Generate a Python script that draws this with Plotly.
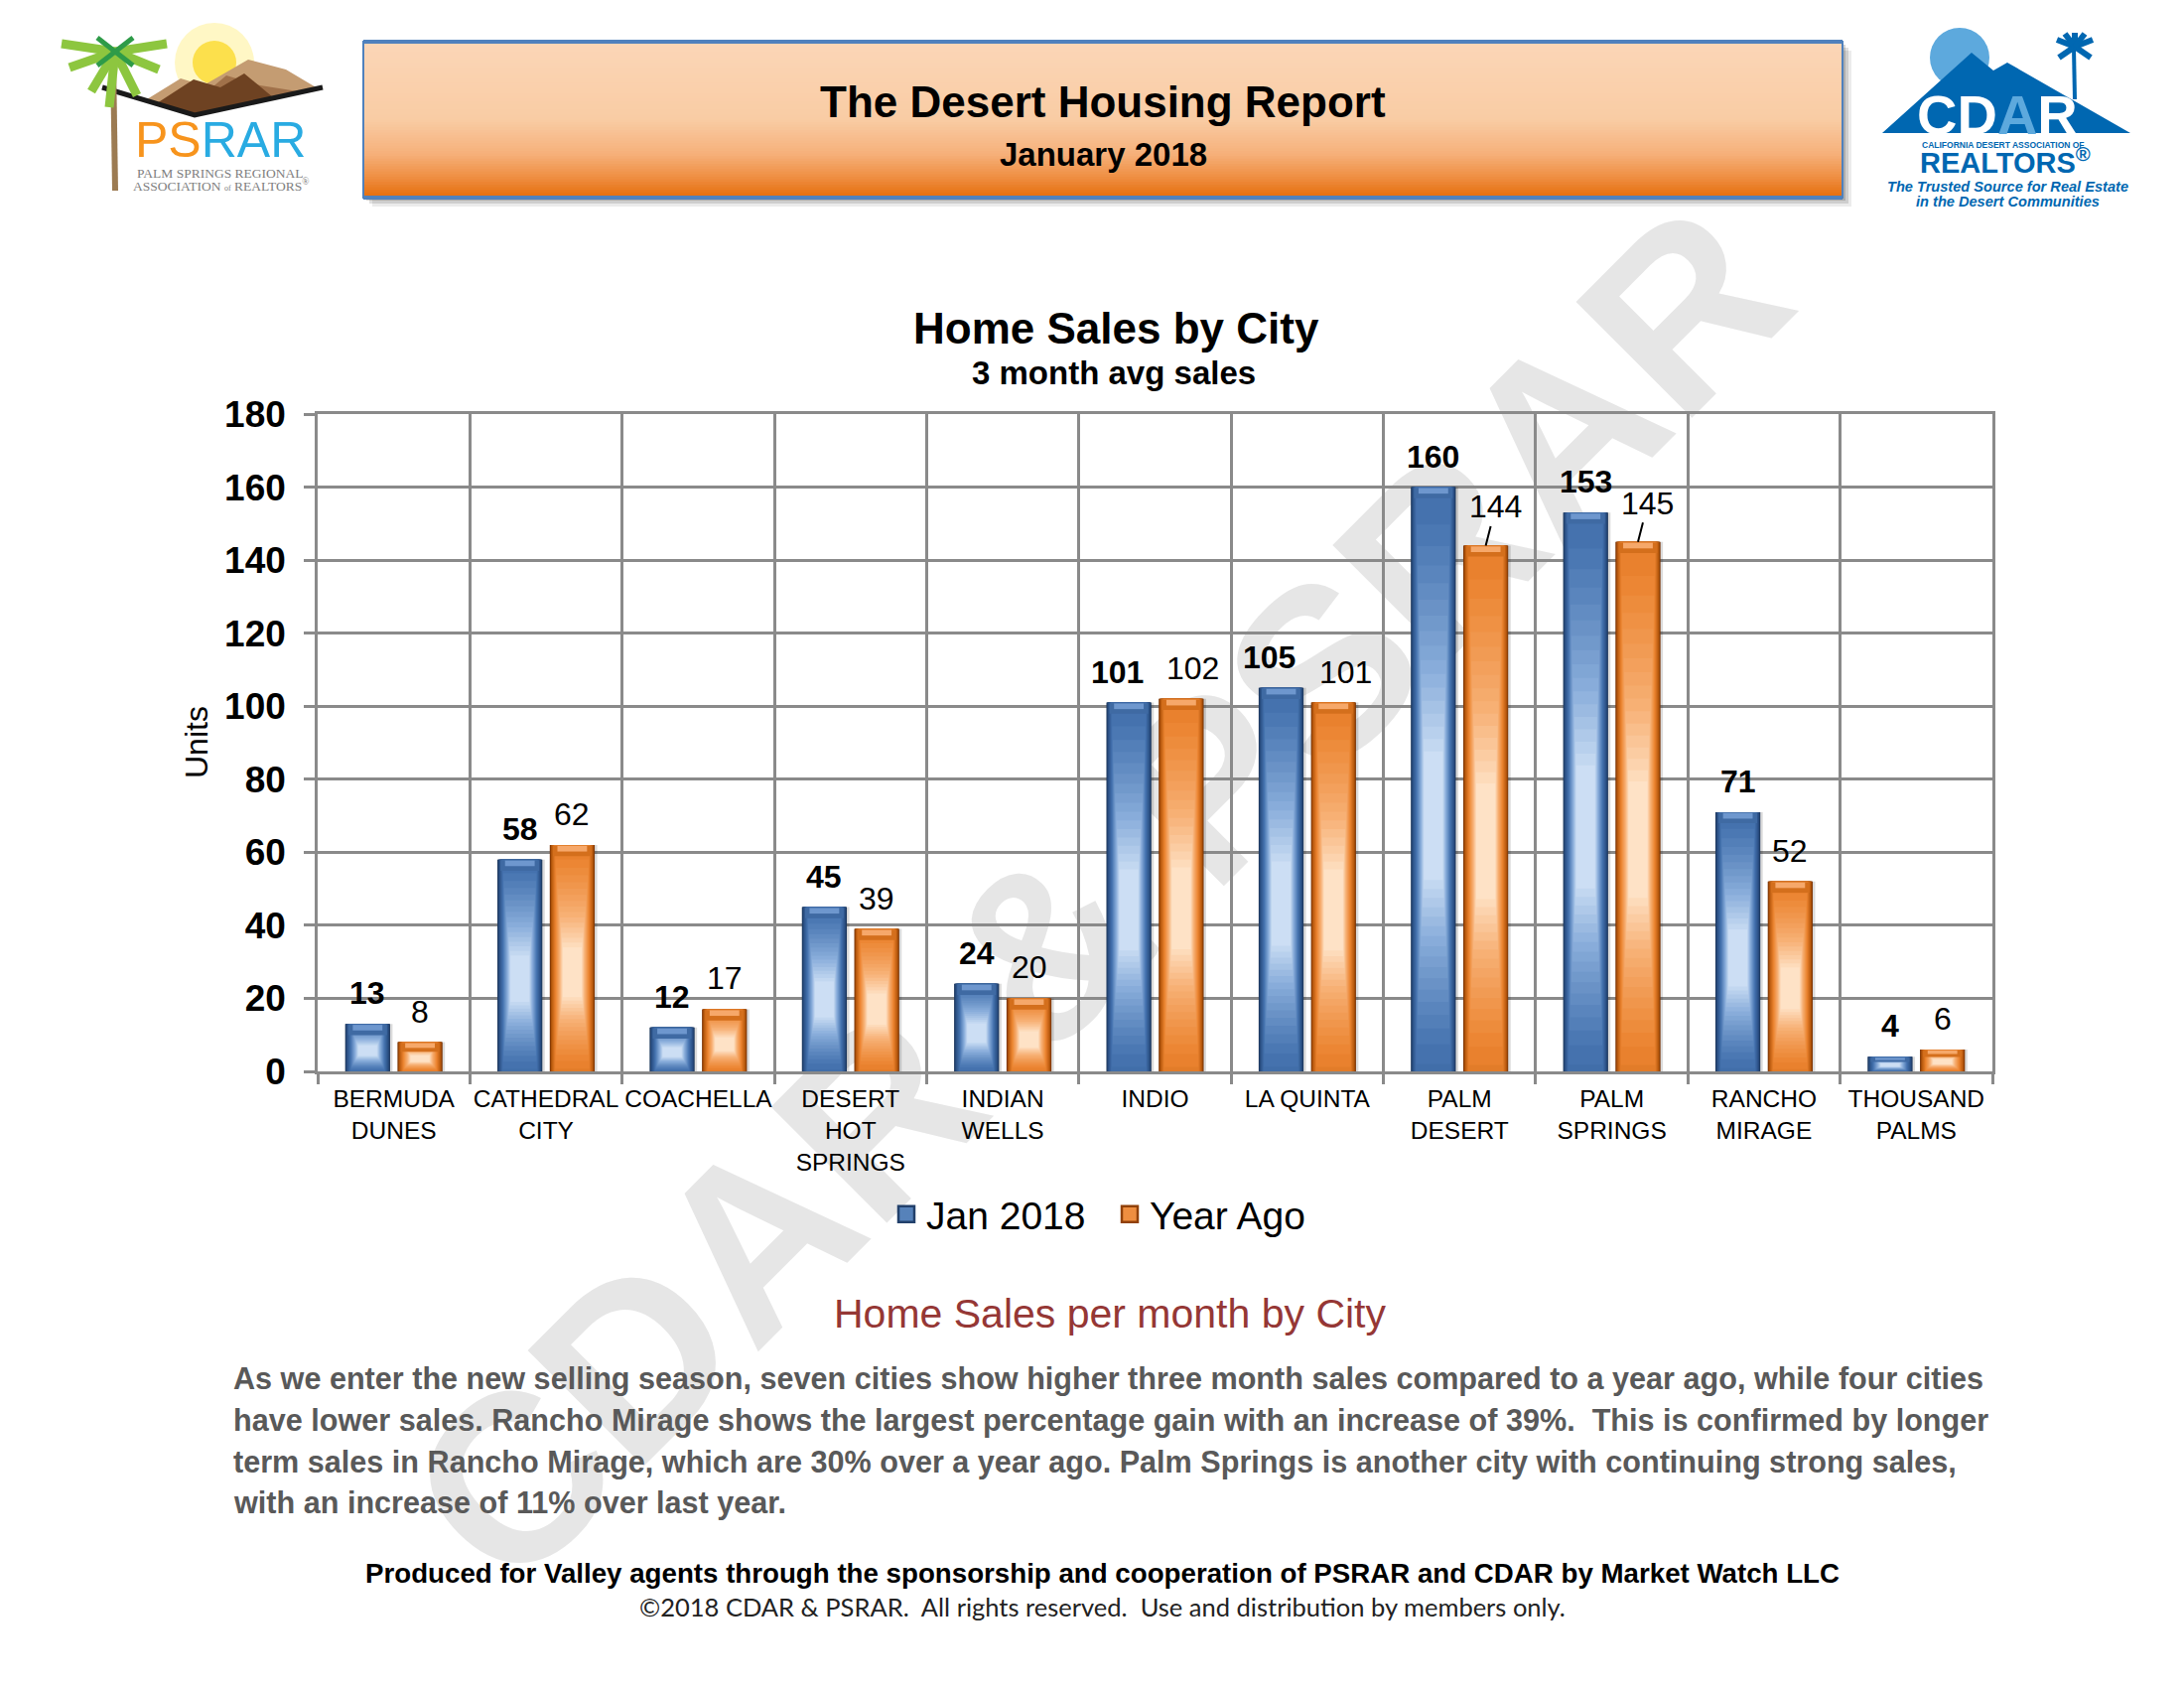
import plotly.graph_objects as go

# ---------------- data ----------------
categories = ["BERMUDA DUNES", "CATHEDRAL CITY", "COACHELLA", "DESERT HOT SPRINGS",
              "INDIAN WELLS", "INDIO", "LA QUINTA", "PALM DESERT", "PALM SPRINGS",
              "RANCHO MIRAGE", "THOUSAND PALMS"]
tick_labels = ["BERMUDA<br>DUNES", "CATHEDRAL<br>CITY", "COACHELLA", "DESERT<br>HOT<br>SPRINGS",
               "INDIAN<br>WELLS", "INDIO", "LA QUINTA", "PALM<br>DESERT", "PALM<br>SPRINGS",
               "RANCHO<br>MIRAGE", "THOUSAND<br>PALMS"]
jan_2018 = [13, 58, 12, 45, 24, 101, 105, 160, 153, 71, 4]
year_ago = [8, 62, 17, 39, 20, 102, 101, 144, 145, 52, 6]
series_names = ["Jan 2018", "Year Ago"]
y_tick_values = [0, 20, 40, 60, 80, 100, 120, 140, 160, 180]

paragraph_lines = [
    "As we enter the new selling season, seven cities show higher three month sales compared to a year ago, while four cities",
    "have lower sales. Rancho Mirage shows the largest percentage gain with an increase of 39%.  This is confirmed by longer",
    "term sales in Rancho Mirage, which are 30% over a year ago. Palm Springs is another city with continuing strong sales,",
    "with an increase of 11% over last year.",
]

# ---------------- geometry helpers (layout only) ----------------
W, H = 2200, 1700
L, R, T, B = 320, 2007, 417, 1079
CAT_PX = (R - L) / len(categories)


def X(px):
    return (px - L) / (R - L)


def Y(py):
    return (B - py) / (B - T)


def hex2rgb(h):
    h = h.lstrip('#')
    return [int(h[i:i + 2], 16) for i in (0, 2, 4)]


def interp(stops, t):
    for (t0, c0), (t1, c1) in zip(stops[:-1], stops[1:]):
        if t0 <= t <= t1:
            f = 0 if t1 == t0 else (t - t0) / (t1 - t0)
            a, b = hex2rgb(c0), hex2rgb(c1)
            r = [round(a[i] + (b[i] - a[i]) * f) for i in range(3)]
            return 'rgb(%d,%d,%d)' % tuple(r)
    return stops[-1][1]


FONT = "Arial, Liberation Sans, sans-serif"
GRID = "#8a8a8a"


def txt(px, py, text, font, xanchor='center', **kw):
    d = dict(x=X(px), y=Y(py), xref='paper', yref='paper', text=text, showarrow=False,
             xanchor=xanchor, yanchor='middle', font=font)
    d.update(kw)
    return d


fig = go.Figure()

blue_stops = [(0, '#1C365A'), (0.12, '#2A4F83'), (0.42, '#4674B0'), (0.75, '#8AAEDB'), (1, '#CCDEF4')]
orange_stops = [(0, '#773205'), (0.12, '#B5570C'), (0.42, '#EB832F'), (0.75, '#F7B176'), (1, '#FEE2C6')]
blue_cap = ['#3F6AA3', '#6E97CE']
orange_cap = ['#D46F1C', '#F6A86A']

BW = 0.295
N = 28


def add_series(vals, center, stops, caps, name):
    # soft shadow on the right
    fig.add_trace(go.Bar(x=categories, y=vals, width=BW * 0.92, offset=center - BW / 2 + 0.04,
                         marker=dict(color='rgba(0,0,0,0.14)', line_width=0),
                         showlegend=False, hoverinfo='skip'))
    for k in range(N):
        t = k / (N - 1)
        wf = 1 - 0.58 * t
        if t <= 0.4:
            hf = 1.0
        else:
            s = (t - 0.4) / 0.6
            hf = 1 - 0.78 * s ** 0.75
        c = 0.42
        base = [v * c * (1 - hf) for v in vals]
        hgt = [v * hf for v in vals]
        w = BW * wf
        fig.add_trace(go.Bar(x=categories, y=hgt, base=base, width=w, offset=center - w / 2,
                             marker=dict(color=interp(stops, t), line_width=0),
                             showlegend=False, hoverinfo='skip'))
    # top bevel (lighter trapezoid made of two steps)
    for j, (wfrac, col) in enumerate([(0.86, caps[0]), (0.66, caps[1])]):
        cap = [min(2.8, 0.3 * v) * (1 - 0.45 * j) for v in vals]
        top = [v - 0.25 for v in vals]
        w = BW * wfrac
        fig.add_trace(go.Bar(x=categories, y=cap, base=[tp - cp for tp, cp in zip(top, cap)],
                             width=w, offset=center - w / 2,
                             marker=dict(color=col, line_width=0), showlegend=False, hoverinfo='skip'))
    # legend entry only (no data)
    fig.add_trace(go.Scatter(x=[None], y=[None], mode='markers', name=name,
                             marker=dict(symbol='square', size=16, color=interp(stops, 0.5),
                                         line=dict(color=interp(stops, 0.05), width=2.5))))


CB, CO = -0.172, 0.172
add_series(jan_2018, CB, blue_stops, blue_cap, series_names[0])
add_series(year_ago, CO, orange_stops, orange_cap, series_names[1])

annotations = []

# data labels
leader_idx = {7, 8}
for i, (vb, vo) in enumerate(zip(jan_2018, year_ago)):
    spread = 12 if (vb >= 100 and vo >= 100 and i not in leader_idx) else 0
    annotations.append(dict(x=categories[i], y=vb, xref='x', yref='y', text=str(vb),
                            xshift=CB * CAT_PX - spread, yshift=11, yanchor='bottom', xanchor='center',
                            showarrow=False,
                            font=dict(family=FONT, size=32, color='black', weight='bold')))
    if i in leader_idx:
        annotations.append(dict(x=categories[i], y=vo, xref='x', yref='y', text=str(vo),
                                xshift=CO * CAT_PX, showarrow=True, arrowhead=0, arrowwidth=2,
                                arrowcolor='black', ax=10, ay=-39, standoff=0,
                                font=dict(family=FONT, size=32, color='black')))
    else:
        annotations.append(dict(x=categories[i], y=vo, xref='x', yref='y', text=str(vo),
                                xshift=CO * CAT_PX + spread, yshift=11, yanchor='bottom', xanchor='center',
                                showarrow=False,
                                font=dict(family=FONT, size=32, color='black')))

# chart titles
annotations += [
    txt(1124, 330, 'Home Sales by City', dict(family=FONT, size=44, color='black', weight='bold')),
    txt(1122, 375, '3 month avg sales', dict(family=FONT, size=33, color='black', weight='bold')),
    txt(198, 748, 'Units', dict(family=FONT, size=32, color='black'), textangle=-90),
]

# header banner texts
annotations += [
    txt(1111, 102, 'The Desert Housing Report', dict(family=FONT, size=44, color='black', weight='bold')),
    txt(1111, 156, 'January 2018', dict(family=FONT, size=33, color='black', weight='bold')),
]

# lower text
annotations.append(txt(1118, 1323, 'Home Sales per month by City', dict(family=FONT, size=41, color='#953735')))
for j, line in enumerate(paragraph_lines):
    annotations.append(txt(233, [1388, 1430, 1472, 1513][j], line,
                           dict(family=FONT, size=30.6, color='#595959', weight='bold'), xanchor='left'))
annotations += [
    txt(1110, 1584,
        'Produced for Valley agents through the sponsorship and cooperation of PSRAR and CDAR by Market Watch LLC',
        dict(family=FONT, size=27.7, color='black', weight='bold')),
    txt(1110, 1618, '©2018 CDAR &amp; PSRAR.  All rights reserved.  Use and distribution by members only.',
        dict(family='Lato, Carlito, sans-serif', size=25.5, color='#222222')),
]

# PSRAR logo texts
annotations += [
    txt(222, 141, "<span style='color:#F7941D'>PS</span><span style='color:#29ABE2'>RAR</span>",
        dict(family=FONT, size=50)),
    txt(222, 174, 'PALM SPRINGS REGIONAL', dict(family='Liberation Serif, serif', size=13.5, color='#808080')),
    txt(222, 187, "ASSOCIATION <span style='font-size:8px'>of</span> REALTORS<sup>®</sup>",
        dict(family='Liberation Serif, serif', size=13.5, color='#808080')),
]
# CDAR logo texts
annotations += [
    txt(2012, 116, "CD<span style='color:#5DA9DD'>A</span>R", dict(family=FONT, size=56, color='white', weight='bold')),
    txt(2018, 146, 'CALIFORNIA DESERT ASSOCIATION OF', dict(family=FONT, size=8.5, color='#0067B1', weight='bold')),
    txt(2020, 162, 'REALTORS<sup>®</sup>', dict(family=FONT, size=29, color='#0067B1', weight='bold')),
    txt(2022, 188, 'The Trusted Source for Real Estate',
        dict(family=FONT, size=14.6, color='#0067B1', weight='bold', style='italic')),
    txt(2022, 203, 'in the Desert Communities',
        dict(family=FONT, size=14.6, color='#0067B1', weight='bold', style='italic')),
]

shapes = []

# watermark
shapes.append(dict(type='rect', xref='paper', yref='paper', x0=X(890), x1=X(1290), y0=Y(1085), y1=Y(685),
                   line=dict(width=0), fillcolor='rgba(0,0,0,0)', layer='below',
                   label=dict(text='CDAR &amp; PSRAR', textposition='middle center', textangle=-45,
                              font=dict(family=FONT, size=240, color='#E6E6E6', weight='bold'))))

# header banner: shadow, gradient, border
bx0, bx1, by0, by1 = 366, 1856, 42, 199
for d, op in [(9, 0.08), (6, 0.12), (3, 0.16)]:
    shapes.append(dict(type='rect', xref='paper', yref='paper', x0=X(bx0 + d), x1=X(bx1 + d),
                       y0=Y(by1 + d), y1=Y(by0 + d), line=dict(width=0),
                       fillcolor='rgba(0,0,0,%.2f)' % op))
hdr_stops = [(0, '#FBD6B7'), (0.5, '#F9CCA4'), (0.72, '#F6B07A'), (0.88, '#EE8C3E'), (1, '#E46C0A')]
NS = 60
for s in range(NS):
    ya = by0 + (by1 - by0) * s / NS
    yb = by0 + (by1 - by0) * (s + 1) / NS + 1
    shapes.append(dict(type='rect', xref='paper', yref='paper', x0=X(bx0), x1=X(bx1), y0=Y(min(yb, by1)), y1=Y(ya),
                       line=dict(width=0), fillcolor=interp(hdr_stops, (s + 0.5) / NS)))
shapes.append(dict(type='rect', xref='paper', yref='paper', x0=X(bx0), x1=X(bx1), y0=Y(by1), y1=Y(by0),
                   line=dict(width=2, color='#4F81BD'), fillcolor='rgba(0,0,0,0)'))
for yy in (by0, by1):
    shapes.append(dict(type='line', xref='paper', yref='paper', x0=X(bx0), x1=X(bx1), y0=Y(yy), y1=Y(yy),
                       line=dict(width=4, color='#4F81BD')))


def P(pts, close=True):
    s = 'M' + ' L'.join('%.5f,%.5f' % (X(a), Y(b)) for a, b in pts)
    return s + (' Z' if close else '')


# PSRAR logo drawing
shapes.append(dict(type='circle', xref='paper', yref='paper', x0=X(176), x1=X(256), y0=Y(103), y1=Y(23),
                   line=dict(width=0), fillcolor='rgba(255,240,150,0.55)'))
shapes.append(dict(type='circle', xref='paper', yref='paper', x0=X(194), x1=X(238), y0=Y(85), y1=Y(41),
                   line=dict(width=0), fillcolor='#FCE04C'))
shapes.append(dict(type='path', xref='paper', yref='paper',
                   path=P([(148, 100), (182, 79), (205, 86), (250, 60), (288, 70), (320, 89), (196, 114)]),
                   line=dict(width=0), fillcolor='#C49C72'))
shapes.append(dict(type='path', xref='paper', yref='paper',
                   path=P([(185, 112), (228, 76), (262, 86), (300, 92), (210, 114)]),
                   line=dict(width=0), fillcolor='#A0714A'))
shapes.append(dict(type='path', xref='paper', yref='paper',
                   path=P([(158, 104), (195, 80), (222, 88), (246, 74), (275, 98), (196, 114)]),
                   line=dict(width=0), fillcolor='#6E4222'))
shapes.append(dict(type='path', xref='paper', yref='paper',
                   path=P([(103, 88), (196, 116), (325, 88)], close=False),
                   line=dict(width=5, color='#1a1a1a')))
shapes.append(dict(type='line', xref='paper', yref='paper', x0=X(114), x1=X(116), y0=Y(60), y1=Y(192),
                   line=dict(width=6, color='#9C7B52')))
for tip in [(62, 44), (70, 68), (168, 44), (160, 70), (92, 92), (138, 96), (110, 108)]:
    shapes.append(dict(type='line', xref='paper', yref='paper', x0=X(116), y0=Y(52), x1=X(tip[0]), y1=Y(tip[1]),
                       line=dict(width=9, color='#8DC63F')))
for a, b in [((98, 38), (134, 66)), ((134, 38), (98, 66))]:
    shapes.append(dict(type='line', xref='paper', yref='paper', x0=X(a[0]), y0=Y(a[1]), x1=X(b[0]), y1=Y(b[1]),
                       line=dict(width=5, color='#2E9B48')))

# CDAR logo drawing
shapes.append(dict(type='circle', xref='paper', yref='paper', x0=X(1944), x1=X(2004), y0=Y(88), y1=Y(28),
                   line=dict(width=0), fillcolor='#5DA9DD'))
shapes.append(dict(type='path', xref='paper', yref='paper',
                   path=P([(1896, 134), (1986, 53), (2008, 71), (2022, 63), (2146, 134)]),
                   line=dict(width=0), fillcolor='#0067B1'))
shapes.append(dict(type='line', xref='paper', yref='paper', x0=X(2089), x1=X(2090), y0=Y(48), y1=Y(100),
                   line=dict(width=4, color='#0067B1')))
for tip in [(2072, 40), (2074, 58), (2108, 40), (2106, 58), (2090, 33), (2080, 34), (2100, 34)]:
    shapes.append(dict(type='line', xref='paper', yref='paper', x0=X(2090), y0=Y(47), x1=X(tip[0]), y1=Y(tip[1]),
                       line=dict(width=6, color='#0067B1')))

fig.update_layout(
    width=W, height=H, autosize=False,
    margin=dict(l=L, r=W - R, t=T, b=H - B, pad=0),
    paper_bgcolor='white', plot_bgcolor='rgba(0,0,0,0)',
    barmode='overlay',
    showlegend=True,
    legend=dict(orientation='h', x=X(1118), xanchor='center', y=Y(1223), yanchor='middle',
                font=dict(family=FONT, size=39, color='black'), bgcolor='rgba(0,0,0,0)',
                entrywidth=180, entrywidthmode='pixels',
                traceorder='normal', itemsizing='trace', itemclick=False, itemdoubleclick=False),
    xaxis=dict(type='category', categoryorder='array', categoryarray=categories,
               range=[-0.5, len(categories) - 0.5],
               tickmode='array', tickvals=categories, ticktext=tick_labels, tickangle=0,
               tickson='boundaries', ticks='outside', ticklen=10, tickwidth=2.5, tickcolor=GRID,
               showgrid=True, gridcolor=GRID, gridwidth=2.5,
               showline=True, linecolor=GRID, linewidth=3, mirror=True,
               tickfont=dict(family=FONT, size=24.5, color='black'), ticklabelstandoff=4),
    yaxis=dict(range=[0, 180], tickmode='array', tickvals=y_tick_values,
               ticks='outside', ticklen=11, tickwidth=2.5, tickcolor=GRID,
               showgrid=True, gridcolor=GRID, gridwidth=2.5, zeroline=False,
               showline=True, linecolor=GRID, linewidth=2.5, mirror=True,
               tickfont=dict(family=FONT, size=37, color='black', weight='bold'), ticklabelstandoff=11),
    annotations=annotations,
    shapes=shapes,
)

fig.write_html("out.html")
